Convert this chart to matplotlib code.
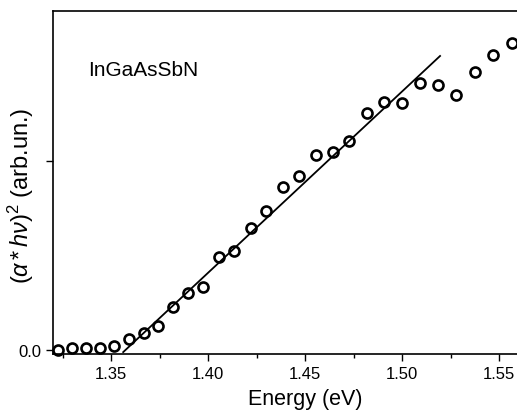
import matplotlib
matplotlib.use("Agg")
import matplotlib.pyplot as plt
from matplotlib.ticker import MultipleLocator

plt.rcParams["font.family"] = "Liberation Sans"
plt.rcParams["mathtext.fontset"] = "custom"
plt.rcParams["mathtext.rm"] = "Liberation Sans"
plt.rcParams["mathtext.it"] = "Liberation Sans:italic"

# measured absorption data
energy = [1.3227, 1.3299, 1.3371, 1.3443, 1.3515, 1.3593, 1.3668, 1.3742,
          1.3820, 1.3897, 1.3974, 1.4057, 1.4134, 1.4222, 1.4299, 1.4387,
          1.4469, 1.4557, 1.4644, 1.4727, 1.4820, 1.4907, 1.5000, 1.5093,
          1.5186, 1.5278, 1.5376, 1.5469, 1.5567]
absorb = [0.0, 0.011, 0.011, 0.011, 0.021, 0.058, 0.090, 0.127,
          0.228, 0.302, 0.333, 0.492, 0.524, 0.646, 0.735, 0.862,
          0.921, 1.032, 1.048, 1.106, 1.254, 1.312, 1.307, 1.413,
          1.402, 1.349, 1.471, 1.561, 1.624]

# linear fit endpoints
fit_x = [1.3562, 1.5196]
fit_y = [-0.011, 1.556]

fig = plt.figure(figsize=(5.17, 4.14), dpi=100)
ax = fig.add_axes([53 / 517, 59 / 414, 465.4 / 517, 343 / 414])

ax.plot(energy, absorb, "o", mfc="none", mec="black", mew=1.9, ms=7.2,
        linestyle="none", clip_on=False, zorder=3)
ax.plot(fit_x, fit_y, color="black", lw=1.3)

ax.set_xlim(1.32, 1.56)
ax.set_ylim(-0.021, 1.794)
ax.xaxis.set_major_locator(MultipleLocator(0.05))
ax.xaxis.set_minor_locator(MultipleLocator(0.025))
ax.set_yticks([0, 1])
ax.set_yticklabels(["0.0", ""])
ax.tick_params(direction="out", length=5, width=1, labelsize=12)
ax.tick_params(which="minor", direction="out", length=3, width=1)
ax.spines["right"].set_visible(False)
for s in ["left", "bottom", "top"]:
    ax.spines[s].set_linewidth(1.2)

ax.set_xlabel("Energy (eV)", fontsize=15.5)
ax.xaxis.set_label_coords((305 - 53) / 465.4, -(400 - 355) / 343)
ax.set_ylabel(r"$(\alpha\,$*$\,h\nu)^2$ (arb.un.)", fontsize=17)
ax.yaxis.set_label_coords(-(32 / 465.4), (355 - 196) / 343)
ax.yaxis.label.set_va("center")
ax.xaxis.label.set_va("center")
ax.text(0.075, 0.83, "InGaAsSbN", transform=ax.transAxes, fontsize=15,
        va="center")

fig.savefig("out.png", dpi=100)
